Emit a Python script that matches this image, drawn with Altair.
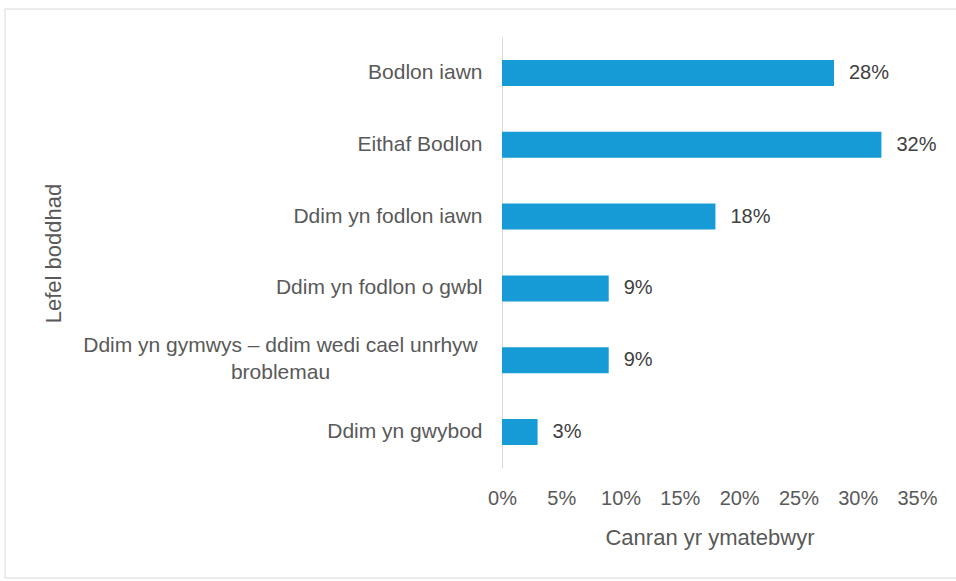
import altair as alt
import pandas as pd

categories = [
    "Bodlon iawn",
    "Eithaf Bodlon",
    "Ddim yn fodlon iawn",
    "Ddim yn fodlon o gwbl",
    "Ddim yn gymwys – ddim wedi cael unrhyw|broblemau",
    "Ddim yn gwybod",
]
values = [28, 32, 18, 9, 9, 3]
x_ticks = [0, 5, 10, 15, 20, 25, 30, 35]

df = pd.DataFrame({"cat": categories, "val": values})

FONT = "Liberation Sans"
BAR = "#169BD7"
GREY = "#595959"
MULTI = "indexof(datum.label, '|') >= 0"

base = alt.Chart(df).encode(
    y=alt.Y(
        "cat:N",
        sort=categories,
        scale=alt.Scale(paddingInner=0, paddingOuter=0),
        axis=alt.Axis(
            title="Lefel boddhad",
            titleFont=FONT,
            titleFontSize=22,
            titleFontWeight="normal",
            titleColor=GREY,
            titleAngle=270,
            titleX=-442,
            titleY=216,
            titleAlign="center",
            titleBaseline="alphabetic",
            labelFont=FONT,
            labelFontSize=21,
            labelColor=GREY,
            labelLimit=600,
            labelLineHeight=27,
            labelOverlap=False,
            labelExpr="split(datum.label, '|')",
            labelAlign={"condition": {"test": MULTI, "value": "center"}, "value": "right"},
            labelPadding={"condition": {"test": MULTI, "value": 222}, "value": 20},
            labelOffset={"condition": {"test": MULTI, "value": -14}, "value": 0},
            ticks=False,
            domain=True,
            domainColor="#d9d9d9",
            domainWidth=1,
            grid=False,
        ),
    ),
    x=alt.X(
        "val:Q",
        scale=alt.Scale(domain=[0, 35], nice=False),
        axis=alt.Axis(
            values=x_ticks,
            labelExpr="datum.value + '%'",
            labelOverlap=False,
            labelFlush=False,
            title="Canran yr ymatebwyr",
            titleFont=FONT,
            titleFontSize=22,
            titleFontWeight="normal",
            titleColor=GREY,
            titleY=76,
            titleBaseline="alphabetic",
            labelFont=FONT,
            labelFontSize=20,
            labelColor=GREY,
            labelPadding=20,
            ticks=False,
            domain=False,
            grid=False,
        ),
    ),
)

bars = base.mark_bar(color=BAR, size=26)
labels = base.transform_calculate(txt="datum.val + '%'").mark_text(
    align="left", baseline="middle", dx=15, font=FONT, fontSize=20, color="#404040"
).encode(text="txt:N")

frame = alt.Chart(pd.DataFrame({"a": [0]})).mark_rect(
    fill=None, stroke="#d9d9d9", strokeWidth=1
).encode(
    x=alt.value(-497), x2=alt.value(460), y=alt.value(-28), y2=alt.value(541)
)

chart = alt.layer(frame, bars, labels).properties(
    width=415,
    height=431,
    autosize=alt.AutoSizeParams(type="none"),
    padding={"left": 502, "top": 37, "right": 39, "bottom": 113},
    background="white",
).configure_view(stroke=None)

chart.save("out.html", embed_options={"renderer": "svg", "actions": False})
